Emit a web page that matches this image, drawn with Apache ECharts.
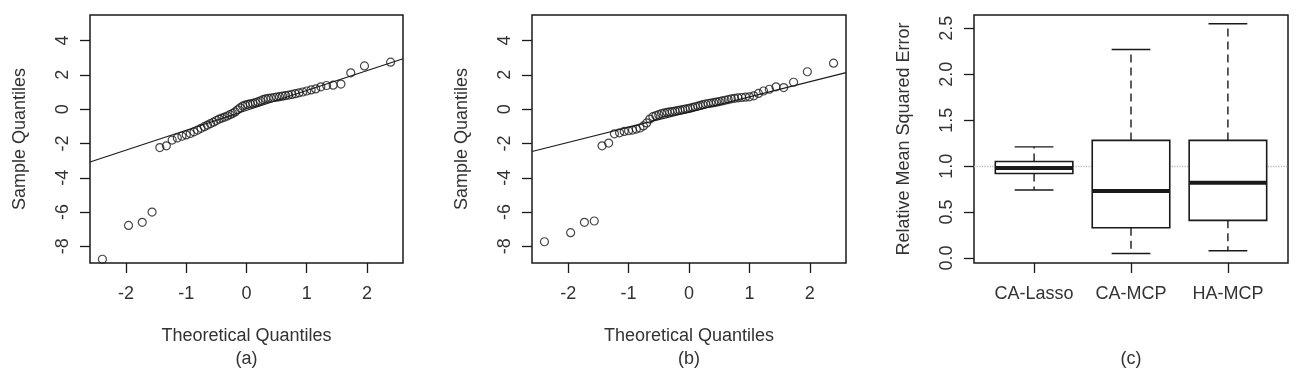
<!DOCTYPE html>
<html>
<head>
<meta charset="utf-8">
<script src="https://cdn.jsdelivr.net/npm/echarts@6/dist/echarts.min.js"></script>
<style>
  html, body { margin: 0; padding: 0; background: #fff; }
  #chart { width: 1296px; height: 384px; }
</style>
</head>
<body>
<div id="chart"></div>
<script>
// theoretical normal quantiles (60 points)
const theoQ = [-2.394, -1.960, -1.732, -1.569, -1.440, -1.331, -1.235, -1.150, -1.073, -1.001,
  -0.935, -0.872, -0.812, -0.755, -0.701, -0.649, -0.598, -0.549, -0.501, -0.454,
  -0.408, -0.363, -0.319, -0.275, -0.232, -0.189, -0.147, -0.105, -0.063, -0.021,
  0.021, 0.063, 0.105, 0.147, 0.189, 0.232, 0.275, 0.319, 0.363, 0.408,
  0.454, 0.501, 0.549, 0.598, 0.649, 0.701, 0.755, 0.812, 0.872, 0.935,
  1.001, 1.073, 1.150, 1.235, 1.331, 1.440, 1.569, 1.732, 1.960, 2.394];

// sample quantiles, panel (a)
const sampleA = [-8.75, -6.78, -6.60, -6.00, -2.24, -2.14, -1.80, -1.68, -1.58, -1.50,
  -1.42, -1.32, -1.22, -1.12, -1.02, -0.93, -0.84, -0.76, -0.66, -0.58,
  -0.52, -0.46, -0.40, -0.32, -0.25, -0.16, -0.04, 0.08, 0.18, 0.24,
  0.28, 0.31, 0.34, 0.38, 0.42, 0.48, 0.55, 0.60, 0.63, 0.65,
  0.68, 0.70, 0.73, 0.76, 0.79, 0.82, 0.86, 0.90, 0.95, 1.00,
  1.06, 1.12, 1.18, 1.30, 1.38, 1.40, 1.46, 2.12, 2.52, 2.74];

// sample quantiles, panel (b)
const sampleB = [-7.73, -7.20, -6.60, -6.52, -2.14, -1.98, -1.44, -1.38, -1.30, -1.26,
  -1.22, -1.16, -1.10, -0.98, -0.80, -0.58, -0.44, -0.38, -0.32, -0.26,
  -0.22, -0.19, -0.16, -0.14, -0.11, -0.08, -0.06, -0.03, 0.00, 0.03,
  0.06, 0.10, 0.14, 0.18, 0.22, 0.26, 0.30, 0.33, 0.35, 0.38,
  0.41, 0.44, 0.48, 0.52, 0.56, 0.60, 0.63, 0.66, 0.68, 0.70,
  0.72, 0.78, 0.92, 1.06, 1.16, 1.30, 1.26, 1.57, 2.18, 2.68];

// qq reference lines (end points at the x limits)
const qqLineA = [[-2.6, -3.08], [2.6, 2.94]];
const qqLineB = [[-2.6, -2.47], [2.6, 2.13]];

// boxplot (c)
const methods = ['CA-Lasso', 'CA-MCP', 'HA-MCP'];
const rmseLow = [0.74, 0.05, 0.08];
const rmseQ1 = [0.92, 0.33, 0.41];
const rmseMedian = [0.98, 0.73, 0.82];
const rmseQ3 = [1.05, 1.28, 1.28];
const rmseHigh = [1.21, 2.27, 2.55];
const refLevel = 1;

// ticks
const qqXTicks = [-2, -1, 0, 1, 2];
const qqYTicks = [-8, -6, -4, -2, 0, 2, 4];
const boxXTicks = [1, 2, 3];
const boxYTicks = [0, 0.5, 1, 1.5, 2, 2.5];

const font = 'Liberation Sans, Arial, sans-serif';
const fontSize = 18;
const textColor = '#333333';
const ink = '#1a1a1a';

const tickStyle = { show: true, inside: false, length: 10, lineStyle: { color: ink, width: 1.3 } };

function xAxisOf(grid, min, max, ticks, name, fmt) {
  return {
    type: 'value', gridIndex: grid, min: min, max: max,
    splitLine: { show: false },
    axisLine: { show: false, onZero: false },
    axisTick: Object.assign({ customValues: ticks }, tickStyle),
    axisLabel: {
      customValues: ticks, margin: 22, color: textColor, fontSize: fontSize, fontFamily: font,
      formatter: fmt
    },
    name: name, nameLocation: 'middle', nameGap: 64,
    nameTextStyle: { color: textColor, fontSize: fontSize, fontFamily: font }
  };
}

function yAxisOf(grid, min, max, ticks, name, fmt) {
  return {
    type: 'value', gridIndex: grid, min: min, max: max,
    splitLine: { show: false },
    axisLine: { show: false, onZero: false },
    axisTick: Object.assign({ customValues: ticks }, tickStyle),
    axisLabel: {
      customValues: ticks, rotate: 90, margin: 18, color: textColor, fontSize: fontSize, fontFamily: font,
      formatter: fmt
    },
    name: name, nameLocation: 'middle', nameRotate: 90, nameGap: 61,
    nameTextStyle: { color: textColor, fontSize: fontSize, fontFamily: font }
  };
}

function zipPoints(xs, ys) {
  return xs.map((x, i) => [x, ys[i]]);
}

const gridBase = { show: true, top: 15, height: 248, borderColor: ink, borderWidth: 1.5, backgroundColor: 'transparent' };

// draw one box with whiskers
function renderBox(params, api) {
  const c = api.value(0);
  const xc = api.coord([c, 0])[0];
  const yLow = api.coord([c, api.value(1)])[1];
  const yQ1 = api.coord([c, api.value(2)])[1];
  const yMed = api.coord([c, api.value(3)])[1];
  const yQ3 = api.coord([c, api.value(4)])[1];
  const yHigh = api.coord([c, api.value(5)])[1];
  const hw = api.size([0.4, 0])[0];
  const cw = api.size([0.2, 0])[0];
  const solid = { stroke: ink, lineWidth: 1.4, fill: null };
  const dash = { stroke: ink, lineWidth: 1.4, lineDash: [8, 5], fill: null };
  return {
    type: 'group',
    children: [
      { type: 'line', shape: { x1: xc, y1: yQ3, x2: xc, y2: yHigh }, style: dash },
      { type: 'line', shape: { x1: xc, y1: yQ1, x2: xc, y2: yLow }, style: dash },
      { type: 'line', shape: { x1: xc - cw, y1: yHigh, x2: xc + cw, y2: yHigh }, style: solid },
      { type: 'line', shape: { x1: xc - cw, y1: yLow, x2: xc + cw, y2: yLow }, style: solid },
      { type: 'rect', shape: { x: xc - hw, y: yQ3, width: 2 * hw, height: yQ1 - yQ3 },
        style: { fill: '#fff', stroke: ink, lineWidth: 1.6 } },
      { type: 'line', shape: { x1: xc - hw, y1: yMed, x2: xc + hw, y2: yMed },
        style: { stroke: ink, lineWidth: 4 } }
    ]
  };
}

const boxData = methods.map((m, i) => [i + 1, rmseLow[i], rmseQ1[i], rmseMedian[i], rmseQ3[i], rmseHigh[i]]);

const scatterStyle = { color: 'rgba(0,0,0,0)', borderColor: ink, borderWidth: 1.2 };

const chart = echarts.init(document.getElementById('chart'));
const option = {
  animation: false,
  backgroundColor: '#fff',
  grid: [
    Object.assign({ left: 90, width: 313 }, gridBase),
    Object.assign({ left: 532, width: 314 }, gridBase),
    Object.assign({ left: 974, width: 314 }, gridBase)
  ],
  xAxis: [
    xAxisOf(0, -2.6, 2.6, qqXTicks, 'Theoretical Quantiles'),
    xAxisOf(1, -2.6, 2.6, qqXTicks, 'Theoretical Quantiles'),
    xAxisOf(2, 0.38, 3.62, boxXTicks, '', v => methods[Math.round(v) - 1] || '')
  ],
  yAxis: [
    yAxisOf(0, -8.97, 5.49, qqYTicks, 'Sample Quantiles'),
    yAxisOf(1, -8.97, 5.49, qqYTicks, 'Sample Quantiles'),
    yAxisOf(2, -0.054, 2.645, boxYTicks, 'Relative Mean Squared Error', v => v.toFixed(1))
  ],
  graphic: [
    { type: 'text', x: 246.5, y: 359, style: { text: '(a)', align: 'center', verticalAlign: 'middle', fill: textColor, font: fontSize + 'px ' + font } },
    { type: 'text', x: 689, y: 359, style: { text: '(b)', align: 'center', verticalAlign: 'middle', fill: textColor, font: fontSize + 'px ' + font } },
    { type: 'text', x: 1131, y: 359, style: { text: '(c)', align: 'center', verticalAlign: 'middle', fill: textColor, font: fontSize + 'px ' + font } }
  ],
  series: [
    {
      type: 'line', xAxisIndex: 0, yAxisIndex: 0, data: qqLineA, symbol: 'none',
      lineStyle: { color: ink, width: 1.2 }, silent: true
    },
    {
      type: 'scatter', xAxisIndex: 0, yAxisIndex: 0, data: zipPoints(theoQ, sampleA),
      symbol: 'circle', symbolSize: 8, itemStyle: scatterStyle
    },
    {
      type: 'line', xAxisIndex: 1, yAxisIndex: 1, data: qqLineB, symbol: 'none',
      lineStyle: { color: ink, width: 1.2 }, silent: true
    },
    {
      type: 'scatter', xAxisIndex: 1, yAxisIndex: 1, data: zipPoints(theoQ, sampleB),
      symbol: 'circle', symbolSize: 8, itemStyle: scatterStyle
    },
    {
      type: 'custom', xAxisIndex: 2, yAxisIndex: 2, data: boxData, renderItem: renderBox,
      encode: { x: 0, y: [1, 2, 3, 4, 5] },
      markLine: {
        silent: true, symbol: 'none', z: 1,
        label: { show: false },
        lineStyle: { color: '#bbbbbb', type: 'dotted', width: 1.3 },
        data: [{ yAxis: refLevel }]
      }
    }
  ]
};
chart.setOption(option);
</script>
</body>
</html>
